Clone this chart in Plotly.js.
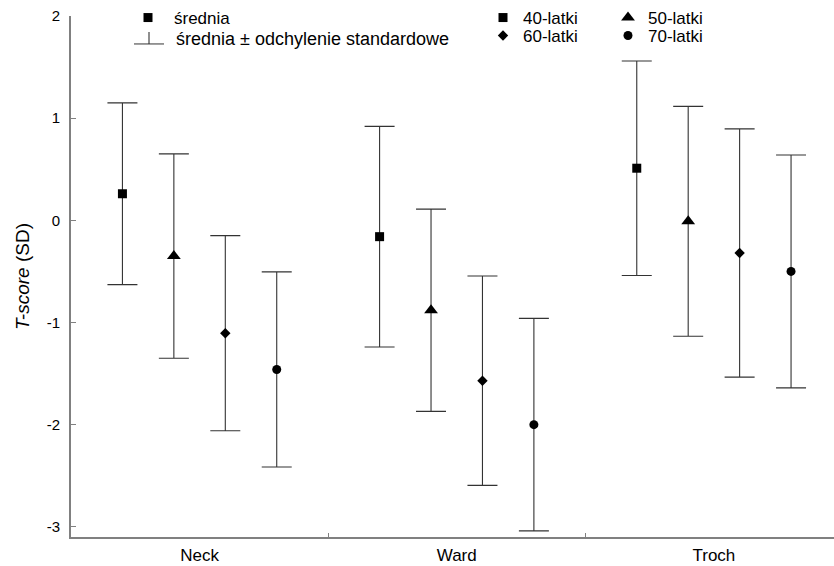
<!DOCTYPE html>
<html>
<head>
<meta charset="utf-8">
<script src="https://cdn.plot.ly/plotly-3.0.1.min.js"></script>
<style>html,body{margin:0;padding:0;background:#fff;}#chart{width:834px;height:566px;}</style>
</head>
<body>
<div id="chart"></div>
<script>
// ---- data ----
const categories = ['Neck', 'Ward', 'Troch'];
const groups = ['40-latki', '50-latki', '60-latki', '70-latki'];
const mean40 = [0.26, -0.16, 0.51];
const sd40 = [0.89, 1.08, 1.05];
const mean50 = [-0.35, -0.88, -0.01];
const sd50 = [1.00, 0.99, 1.125];
const mean60 = [-1.105, -1.57, -0.32];
const sd60 = [0.955, 1.025, 1.215];
const mean70 = [-1.46, -2.00, -0.50];
const sd70 = [0.955, 1.04, 1.14];
const yTicks = [-3, -2, -1, 0, 1, 2];
const yTickText = ['-3', '-2', '-1', '0', '1', '2'];
const legendMeanLabel = 'średnia';
const legendSdLabel = 'średnia ± odchylenie standardowe';

// ---- styling ----
const FONT = 'Liberation Sans, Arial, sans-serif';
const means = [mean40, mean50, mean60, mean70];
const sds = [sd40, sd50, sd60, sd70];
const symbols = ['square', 'triangle-up', 'diamond', 'circle'];
const sizes = [9, 12, 8, 9];
const offsets = [-0.3, -0.1, 0.1, 0.3];
const legendIds = ['legend', 'legend', 'legend2', 'legend2'];

const traces = groups.map((g, i) => ({
  type: 'scatter',
  mode: 'markers',
  name: g,
  legend: legendIds[i],
  x: categories.map((c, k) => k + offsets[i]),
  y: means[i],
  marker: {symbol: symbols[i], size: sizes[i], color: '#000'},
  error_y: {type: 'data', array: sds[i], visible: true, width: 15, thickness: 1.1, color: '#333'},
  hoverinfo: 'y'
}));

traces.push({
  type: 'scatter', mode: 'markers', name: legendMeanLabel, legend: 'legend3',
  x: [null], y: [null],
  marker: {symbol: 'square', size: 9, color: '#000'}
});

const L = 71, R = 834, T = 15, B = 537;
const px = v => (v - L) / (R - L);
const py = v => (B - v) / (B - T);

const legendCommon = {
  orientation: 'h', bgcolor: 'rgba(0,0,0,0)', borderwidth: 0,
  font: {family: FONT, size: 17, color: '#000'},
  xanchor: 'left', yanchor: 'middle',
  entrywidth: 80, entrywidthmode: 'pixels',
  tracegroupgap: 0, itemclick: false
};

const layout = {
  width: 834, height: 566,
  margin: {l: L, r: 834 - R, t: T, b: 566 - B, pad: 0},
  paper_bgcolor: '#fff', plot_bgcolor: '#fff',
  font: {family: FONT, color: '#000'},
  showlegend: true,
  legend: Object.assign({}, legendCommon, {x: px(483), y: py(17)}),
  legend2: Object.assign({}, legendCommon, {x: px(483), y: py(36)}),
  legend3: Object.assign({}, legendCommon, {x: px(122), y: py(17), itemwidth: 42}),
  xaxis: {
    range: [-0.5, 2.467],
    tickmode: 'array', tickvals: [0, 1, 2], ticktext: categories,
    ticks: '', showgrid: false, zeroline: false,
    showline: true, linecolor: '#808080', linewidth: 2,
    tickfont: {family: FONT, size: 17, color: '#000'},
    ticklabelstandoff: 2,
    minor: {tickmode: 'array', tickvals: [0.5, 1.5], ticks: 'inside', ticklen: 4, tickcolor: '#808080', tickwidth: 1},
    fixedrange: true
  },
  yaxis: {
    range: [-3.1, 2.0],
    tickmode: 'array', tickvals: yTicks, ticktext: yTickText,
    ticks: 'inside', ticklen: 5, tickcolor: '#808080', tickwidth: 1,
    showgrid: false, zeroline: false,
    showline: true, linecolor: '#808080', linewidth: 2,
    tickfont: {family: FONT, size: 15, color: '#000'},
    ticklabelstandoff: 6,
    title: {text: '<i>T-score</i> (SD)', font: {family: FONT, size: 19, color: '#000'}, standoff: 12},
    fixedrange: true
  },
  annotations: [{
    xref: 'paper', yref: 'paper', x: px(174), y: py(38), xanchor: 'left', yanchor: 'middle',
    text: legendSdLabel, showarrow: false, font: {family: FONT, size: 18, color: '#000'}
  }],
  shapes: [
    {type: 'line', xref: 'paper', yref: 'paper', x0: px(134), x1: px(164), y0: py(43), y1: py(43), line: {color: '#555', width: 1.2}},
    {type: 'line', xref: 'paper', yref: 'paper', x0: px(149), x1: px(149), y0: py(43), y1: py(31), line: {color: '#333', width: 1.1}}
  ]
};

Plotly.newPlot('chart', traces, layout, {displayModeBar: false, staticPlot: true});
</script>
</body>
</html>
